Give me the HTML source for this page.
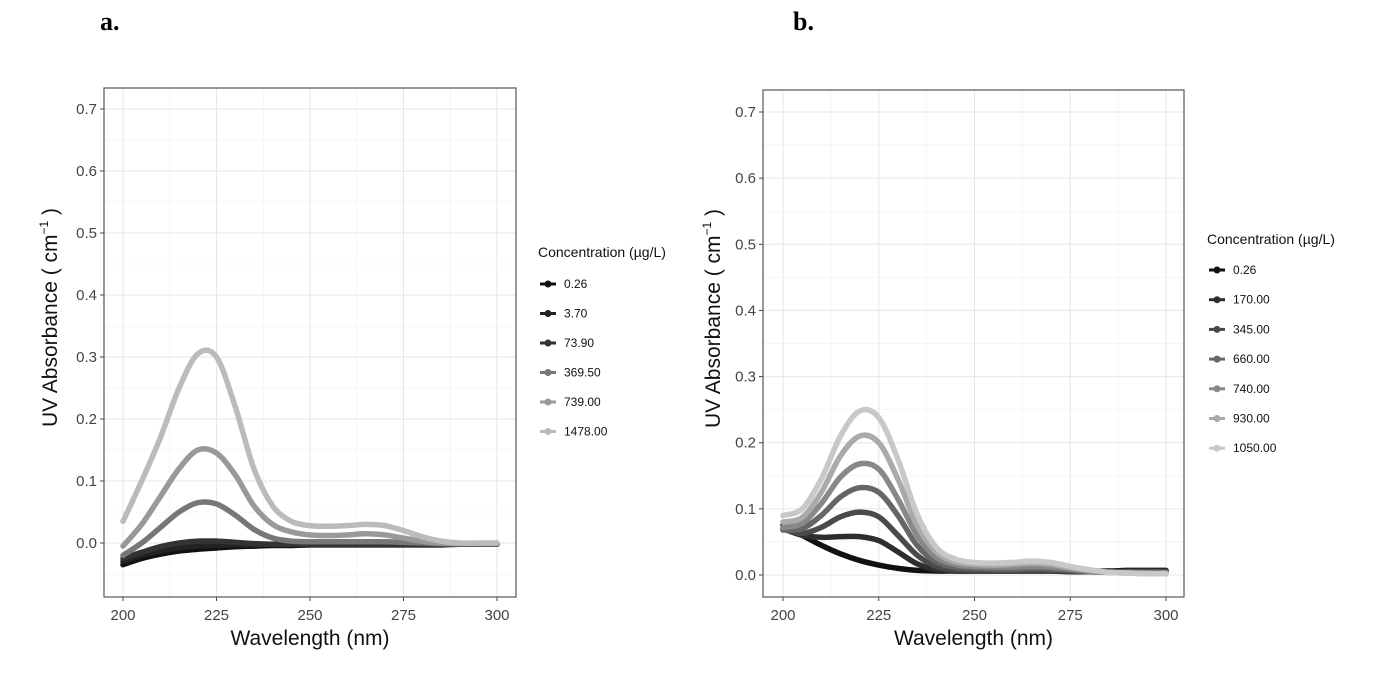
<!DOCTYPE html>
<html><head><meta charset="utf-8"><style>
body{margin:0;background:#fff;width:1380px;height:674px;overflow:hidden}
svg{font-family:"Liberation Sans",sans-serif}
</style></head><body>
<svg id="fig" width="1380" height="674">
<text x="100" y="30" font-family="Liberation Serif" font-weight="bold" font-size="26">a.</text>
<text x="793" y="30" font-family="Liberation Serif" font-weight="bold" font-size="26">b.</text>
</svg>
<script>
const wavelengths=[200,205,210,215,220,225,230,235,240,245,250,255,260,265,270,275,280,285,290,295,300];
const xTicks=[200,225,250,275,300];
const yTicks=[0.0,0.1,0.2,0.3,0.4,0.5,0.6,0.7];
const aLabels=["0.26","3.70","73.90","369.50","739.00","1478.00"];
const a026=[-0.035,-0.025,-0.018,-0.013,-0.01,-0.008,-0.006,-0.005,-0.004,-0.004,-0.003,-0.003,-0.003,-0.003,-0.003,-0.003,-0.003,-0.003,-0.002,-0.002,-0.002];
const a370=[-0.03,-0.02,-0.013,-0.008,-0.005,-0.004,-0.003,-0.003,-0.002,-0.002,-0.002,-0.002,-0.002,-0.002,-0.002,-0.002,-0.002,-0.002,-0.002,-0.002,-0.002];
const a739=[-0.025,-0.015,-0.006,0,0.003,0.003,0.001,-0.001,-0.002,-0.002,-0.002,-0.002,-0.002,-0.002,-0.002,-0.002,-0.002,-0.002,-0.002,-0.002,-0.002];
const a3695=[-0.02,0,0.025,0.05,0.065,0.063,0.045,0.022,0.008,0.003,0.002,0.002,0.002,0.002,0.002,0.001,0,-0.001,-0.001,-0.001,-0.001];
const a7390=[-0.005,0.03,0.075,0.12,0.15,0.145,0.11,0.06,0.03,0.018,0.013,0.012,0.013,0.015,0.013,0.008,0.003,0,-0.001,-0.001,-0.001];
const a14780=[0.035,0.10,0.17,0.25,0.305,0.30,0.22,0.12,0.06,0.035,0.028,0.027,0.028,0.03,0.028,0.02,0.01,0.003,0,0,0];
const bLabels=["0.26","170.00","345.00","660.00","740.00","930.00","1050.00"];
const b026=[0.075,0.06,0.045,0.032,0.022,0.015,0.01,0.007,0.006,0.006,0.006,0.006,0.006,0.006,0.006,0.006,0.006,0.006,0.007,0.007,0.007];
const b170=[0.07,0.06,0.057,0.058,0.058,0.052,0.035,0.017,0.008,0.006,0.006,0.006,0.006,0.006,0.006,0.005,0.005,0.005,0.006,0.006,0.006];
const b345=[0.07,0.063,0.072,0.088,0.095,0.088,0.06,0.03,0.013,0.008,0.007,0.007,0.007,0.007,0.007,0.006,0.005,0.005,0.005,0.005,0.005];
const b660=[0.068,0.07,0.09,0.118,0.132,0.125,0.09,0.045,0.02,0.012,0.01,0.009,0.009,0.01,0.009,0.007,0.005,0.004,0.004,0.004,0.004];
const b740=[0.072,0.078,0.108,0.148,0.168,0.16,0.115,0.06,0.027,0.016,0.013,0.012,0.012,0.013,0.012,0.009,0.006,0.004,0.003,0.003,0.003];
const b930=[0.08,0.087,0.125,0.18,0.21,0.2,0.145,0.075,0.035,0.02,0.016,0.015,0.016,0.018,0.016,0.011,0.007,0.004,0.003,0.002,0.002];
const b1050=[0.09,0.1,0.145,0.21,0.248,0.238,0.175,0.092,0.042,0.024,0.019,0.018,0.019,0.021,0.019,0.013,0.008,0.004,0.003,0.002,0.002];
const aSeries=[a026,a370,a739,a3695,a7390,a14780];
const bSeries=[b026,b170,b345,b660,b740,b930,b1050];
const aColors=["#111","#222","#333","#777","#999","#bbb"];
const bColors=["#111","#2e2e2e","#4a4a4a","#666","#888","#aaa","#c8c8c8"];

const NS="http://www.w3.org/2000/svg";
const fig=document.getElementById('fig');
function mk(tag,attrs,parent){const e=document.createElementNS(NS,tag);for(const k in attrs)e.setAttribute(k,attrs[k]);(parent||fig).appendChild(e);return e;}
function smooth(p){let d=`M${p[0][0]},${p[0][1]}`;for(let i=0;i<p.length-1;i++){const p0=p[i-1]||p[i],p1=p[i],p2=p[i+1],p3=p[i+2]||p2;d+=` C${p1[0]+(p2[0]-p0[0])/6},${p1[1]+(p2[1]-p0[1])/6} ${p2[0]-(p3[0]-p1[0])/6},${p2[1]-(p3[1]-p1[1])/6} ${p2[0]},${p2[1]}`;}return d;}

function panel(P){
 const g=mk('g',{});
 
 
 const X=v=>P.x0+(v-200)/100*(P.x1-P.x0);
 const Y=v=>P.y0-v/0.7*(P.y0-P.y7);
 for(let v=-0.05;v<=0.75;v+=0.1){const y=Y(v);if(y>P.top&&y<P.bottom)mk('line',{x1:P.left,x2:P.right,y1:y,y2:y,stroke:'#f2f2f2','stroke-width':0.8},g);}
 for(let v=187.5;v<=312.5;v+=25){const x=X(v);if(x>P.left&&x<P.right)mk('line',{x1:x,x2:x,y1:P.top,y2:P.bottom,stroke:'#f2f2f2','stroke-width':0.8},g);}
 yTicks.forEach(t=>{const y=Y(t);const l=mk('line',{x1:P.left,x2:P.right,y1:y,y2:y,stroke:'#e6e6e6','stroke-width':1},g);
  mk('line',{x1:P.left-4,x2:P.left,y1:y,y2:y,stroke:'#444'},g);
  const tx=mk('text',{x:P.left-7,y:y+5,'text-anchor':'end','font-size':15,fill:'#444'},g);tx.textContent=t.toFixed(1);});
 xTicks.forEach(t=>{const x=X(t);mk('line',{x1:x,x2:x,y1:P.top,y2:P.bottom,stroke:'#e6e6e6'},g);
  mk('line',{x1:x,x2:x,y1:P.bottom,y2:P.bottom+4,stroke:'#444'},g);
  const tx=mk('text',{x:x,y:P.bottom+23,'text-anchor':'middle','font-size':15,fill:'#444'},g);tx.textContent=t;});
 P.series.forEach((s,i)=>{const pts=wavelengths.map((w,j)=>[X(w),Y(s[j])]);
  const p=mk('path',{d:smooth(pts),fill:'none',stroke:P.colors[i],'stroke-width':5.5,'stroke-linecap':'round','stroke-linejoin':'round'},g);
  });
 const fr=mk('rect',{x:P.left,y:P.top,width:P.right-P.left,height:P.bottom-P.top,fill:'none',stroke:'#555','stroke-width':1.2},g);
 
 const xt=mk('text',{x:(P.left+P.right)/2,y:P.bottom+48,'text-anchor':'middle','font-size':21,fill:'#111'},g);xt.textContent='Wavelength (nm)';
 
 const yc=(P.top+P.bottom)/2-25;
 const yt=mk('text',{x:0,y:0,'text-anchor':'middle','font-size':21,fill:'#111',transform:`translate(${P.ytx},${yc}) rotate(-90)`},g);
 yt.innerHTML='UV Absorbance ( cm<tspan dy="-9" font-size="12">−1</tspan><tspan dy="9"> )</tspan>';
 
 const lt=mk('text',{x:P.lx,y:P.ly,'font-size':14,fill:'#111'},g);lt.textContent='Concentration (µg/L)';
 
 P.labels.forEach((lab,i)=>{const y=P.ly+P.loff+i*P.lstep;
  const lg=mk('g',{},g);
  mk('line',{x1:P.lx+2,x2:P.lx+18,y1:y,y2:y,stroke:P.colors[i],'stroke-width':3},lg);
  mk('circle',{cx:P.lx+10,cy:y,r:3.5,fill:P.colors[i]},lg);
  const t=mk('text',{x:P.lx+26,y:y+4,'font-size':12,fill:'#111'},lg);t.textContent=lab;});
}
panel({name:'panel-a',left:104,right:516,top:88,bottom:597,x0:123,x1:497,y0:543,y7:109,series:aSeries,colors:aColors,labels:aLabels,ytx:57,lx:538,ly:257,loff:27,lstep:29.5});
panel({name:'panel-b',left:763,right:1184,top:90,bottom:597,x0:783,x1:1166,y0:575,y7:112,series:bSeries,colors:bColors,labels:bLabels,ytx:720,lx:1207,ly:244,loff:26,lstep:29.7});
</script>
</body></html>
